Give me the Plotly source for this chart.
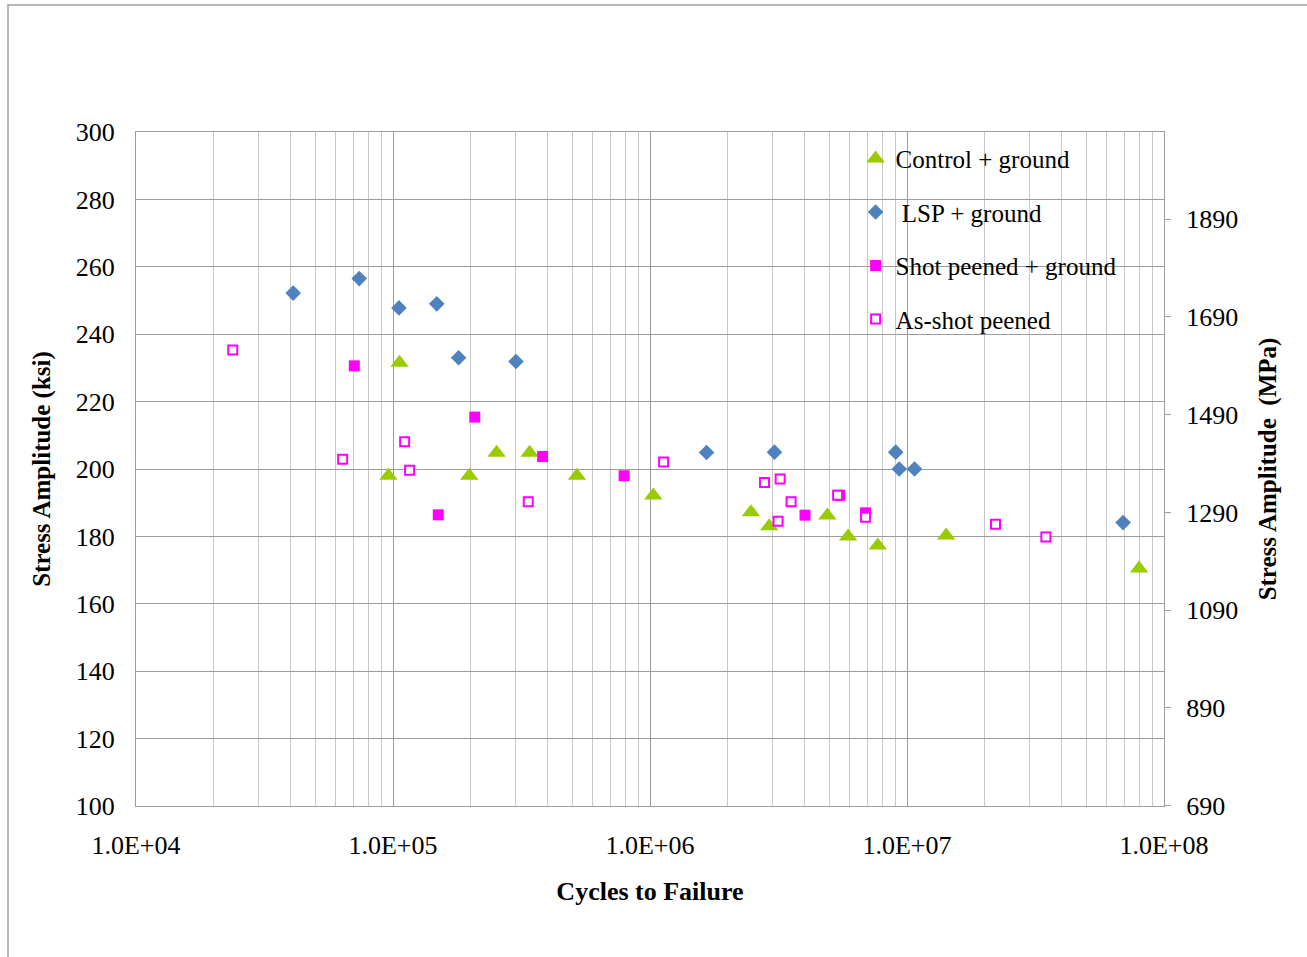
import plotly.graph_objects as go

# ---- data ----
ctrl_N = [9.6e4, 1.06e5, 1.98e5, 2.53e5, 3.40e5, 5.2e5, 1.03e6, 2.47e6, 2.91e6, 4.9e6, 5.9e6, 7.7e6, 1.42e7, 8.0e7]
ctrl_S = [198.0, 231.5, 198.0, 204.8, 204.8, 198.0, 192.1, 187.2, 183.0, 186.2, 180.0, 177.3, 180.3, 170.5]

lsp_N = [4.09e4, 7.39e4, 1.055e5, 1.48e5, 1.80e5, 3.01e5, 1.66e6, 3.05e6, 9.04e6, 9.33e6, 1.07e7, 6.93e7]
lsp_S = [252.2, 256.5, 247.8, 249.0, 233.0, 231.9, 204.9, 205.0, 205.0, 200.0, 200.0, 184.1]

sp_N = [7.07e4, 1.50e5, 2.08e5, 3.82e5, 7.93e5, 4.01e6, 5.48e6, 6.9e6]
sp_S = [230.6, 186.4, 215.4, 203.7, 198.0, 186.3, 192.2, 187.0]

as_N = [2.38e4, 6.37e4, 1.11e5, 1.16e5, 3.36e5, 1.13e6, 2.79e6, 3.21e6, 3.54e6, 3.15e6, 5.37e6, 6.9e6, 2.21e7, 3.47e7]
as_S = [235.3, 202.9, 208.1, 199.6, 190.3, 202.1, 196.0, 197.0, 190.3, 184.5, 192.2, 185.7, 183.6, 179.8]

x_ticks = [1e4, 1e5, 1e6, 1e7, 1e8]
x_ticktext = ["1.0E+04", "1.0E+05", "1.0E+06", "1.0E+07", "1.0E+08"]
x_minor = [m * 10 ** d for d in range(4, 8) for m in range(2, 10)]
mpa_ticks = [690, 890, 1090, 1290, 1490, 1690, 1890]
KSI_TO_MPA = 6.894757
ksi_range = [100, 300]

FONT = "Liberation Serif, Times New Roman, serif"
MAJ = "#9c9c9c"
MIN = "#c8c8c8"

fig = go.Figure()
fig.add_trace(go.Scatter(x=ctrl_N, y=ctrl_S, mode="markers", name="Control + ground",
                         legendgroup="g1",
                         marker=dict(symbol="triangle-up", size=16, color="#99CC00")))
fig.add_trace(go.Scatter(x=lsp_N, y=lsp_S, mode="markers", name=" LSP + ground",
                         legendgroup="g2",
                         marker=dict(symbol="diamond", size=12, color="#4F81BD")))
fig.add_trace(go.Scatter(x=sp_N, y=sp_S, mode="markers", name="Shot peened + ground",
                         legendgroup="g3",
                         marker=dict(symbol="square", size=11, color="#FF00FF")))
fig.add_trace(go.Scatter(x=as_N, y=as_S, mode="markers", name="As-shot peened",
                         legendgroup="g4",
                         marker=dict(symbol="square", size=9, color="white",
                                     line=dict(color="#FF00FF", width=2))))
# the same control data in MPa, invisible, so the secondary (MPa) axis is drawn
fig.add_trace(go.Scatter(x=ctrl_N, y=[s * KSI_TO_MPA for s in ctrl_S], yaxis="y2",
                         mode="markers", marker=dict(opacity=0), showlegend=False,
                         hoverinfo="skip"))

fig.update_layout(
    width=1307, height=957,
    margin=dict(l=136, r=143, t=132, b=151),
    paper_bgcolor="white", plot_bgcolor="white",
    font=dict(family=FONT, color="black", size=26),
    showlegend=True,
    legend=dict(x=0.700, y=0.9945, xanchor="left", yanchor="top",
                bgcolor="rgba(0,0,0,0)", font=dict(family=FONT, size=25),
                tracegroupgap=18, itemwidth=30),
    xaxis=dict(type="log", range=[4, 8], tickvals=x_ticks, ticktext=x_ticktext,
               showgrid=True, gridcolor=MAJ, gridwidth=1,
               minor=dict(tickmode="array", tickvals=x_minor, showgrid=True,
                          gridcolor=MIN, gridwidth=1, ticks=""),
               showline=True, linecolor=MAJ, linewidth=1, mirror=True,
               ticks="", ticklabelstandoff=16,
               tickfont=dict(family=FONT, size=26),
               title=dict(text="Cycles to Failure", standoff=22,
                          font=dict(family=FONT, size=26, weight="bold"))),
    yaxis=dict(range=ksi_range, dtick=20, tick0=100,
               showgrid=True, gridcolor=MAJ, gridwidth=1,
               showline=True, linecolor=MAJ, linewidth=1, mirror=True,
               ticks="", ticklabelstandoff=15,
               tickfont=dict(family=FONT, size=26),
               title=dict(text="Stress Amplitude (ksi)", standoff=18,
                          font=dict(family=FONT, size=25, weight="bold"))),
    yaxis2=dict(overlaying="y", side="right", anchor="x",
                range=[ksi_range[0] * KSI_TO_MPA, ksi_range[1] * KSI_TO_MPA],
                tickmode="array", tickvals=mpa_ticks, showgrid=False,
                showline=True, linecolor=MAJ, linewidth=1,
                ticks="outside", ticklen=6, tickcolor=MAJ, ticklabelstandoff=10,
                tickfont=dict(family=FONT, size=26),
                title=dict(text="Stress Amplitude  (MPa)", standoff=21,
                           font=dict(family=FONT, size=25, weight="bold"))),
    shapes=[
        # white legend panel hiding the grid
        dict(type="rect", xref="paper", yref="paper", layer="between",
             x0=0.676, x1=0.9932, y0=0.681, y1=0.9985,
             fillcolor="white", line=dict(width=0)),
        # outer chart border
        dict(type="rect", xref="paper", yref="paper", layer="above",
             x0=-0.1245, x1=1.2, y0=-0.3, y1=1.1884,
             fillcolor="rgba(0,0,0,0)", line=dict(color="#a0a0a0", width=1.5)),
    ],
)

fig.write_html("out.html")
